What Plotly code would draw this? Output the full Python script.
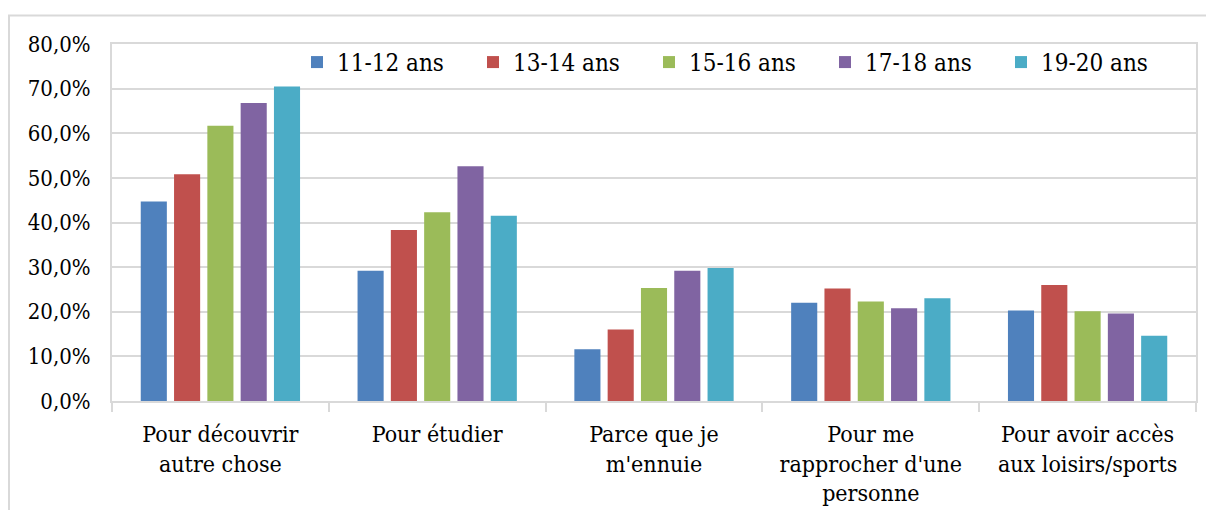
import plotly.graph_objects as go

categories = [
    "Pour découvrir<br>autre chose",
    "Pour étudier",
    "Parce que je<br>m'ennuie",
    "Pour me<br>rapprocher d'une<br>personne",
    "Pour avoir accès<br>aux loisirs/sports",
]
series_names = ["11-12 ans", "13-14 ans", "15-16 ans", "17-18 ans", "19-20 ans"]
s_11_12 = [44.7, 29.2, 11.6, 22.0, 20.3]
s_13_14 = [50.8, 38.3, 16.0, 25.2, 26.0]
s_15_16 = [61.7, 42.3, 25.3, 22.3, 20.1]
s_17_18 = [66.8, 52.6, 29.2, 20.8, 19.6]
s_19_20 = [70.5, 41.5, 29.8, 23.0, 14.6]
colors = ["#4F81BD", "#C0504D", "#9BBB59", "#8064A2", "#4BACC6"]
y_ticks = [0, 10, 20, 30, 40, 50, 60, 70, 80]

FONT = "DejaVu Serif Condensed, Liberation Serif, serif"
GRID = "#D9D9D9"

fig = go.Figure()
for name, vals, col in zip(series_names, [s_11_12, s_13_14, s_15_16, s_17_18, s_19_20], colors):
    fig.add_trace(go.Bar(
        name=name, x=categories, y=[v / 100 for v in vals],
        marker=dict(color=col, line=dict(width=0)),
    ))

# page offset of the figure (browser body margin)
OFF = 8
# target plot area in page pixels: x 112..1196, y 43.5..401
L, R, T, B = 112 - OFF, 1196 - OFF, 43.5 - OFF, 401 - OFF
W, H = 1214 - OFF, 510 - OFF
pw, ph = R - L, B - T

fig.update_layout(
    width=W, height=H,
    margin=dict(l=L, r=W - R, t=T, b=H - B, pad=0, autoexpand=False),
    paper_bgcolor="white", plot_bgcolor="white",
    separators=", ",
    barmode="group", bargap=0.232, bargroupgap=0.216,
    font=dict(family=FONT, size=24, color="#000000"),
    showlegend=True,
    legend=dict(
        orientation="h", x=(297 - OFF - L) / pw, xanchor="left",
        y=(B - (62 - OFF)) / ph, yanchor="middle",
        bgcolor="rgba(0,0,0,0)", font=dict(family=FONT, size=24, color="#000000"),
        entrywidth=131, entrywidthmode="pixels", traceorder="normal",
    ),
    xaxis=dict(
        automargin=False,
        showgrid=False, showline=True, linecolor=GRID, linewidth=2, mirror=True,
        ticks="outside", tickson="boundaries", ticklen=9, tickcolor=GRID, tickwidth=2,
        ticklabelstandoff=11,
        tickfont=dict(family=FONT, size=23, color="#000000"),
    ),
    yaxis=dict(
        automargin=False,
        range=[0, 0.8], tickvals=[v / 100 for v in y_ticks], tickformat=".1%",
        showgrid=True, gridcolor=GRID, gridwidth=2,
        showline=True, linecolor=GRID, linewidth=2, mirror=True,
        zeroline=False, ticks="", ticklabelstandoff=15,
        tickfont=dict(family=FONT, size=22, color="#000000"),
    ),
    shapes=[dict(
        type="rect", xref="paper", yref="paper", layer="below",
        x0=(9 - OFF - L) / pw, x1=(1240 - L) / pw,
        y0=(B - 540) / ph, y1=(B - (15 - OFF)) / ph,
        line=dict(color=GRID, width=2), fillcolor="rgba(0,0,0,0)",
    )],
)

fig.write_html("out.html")
